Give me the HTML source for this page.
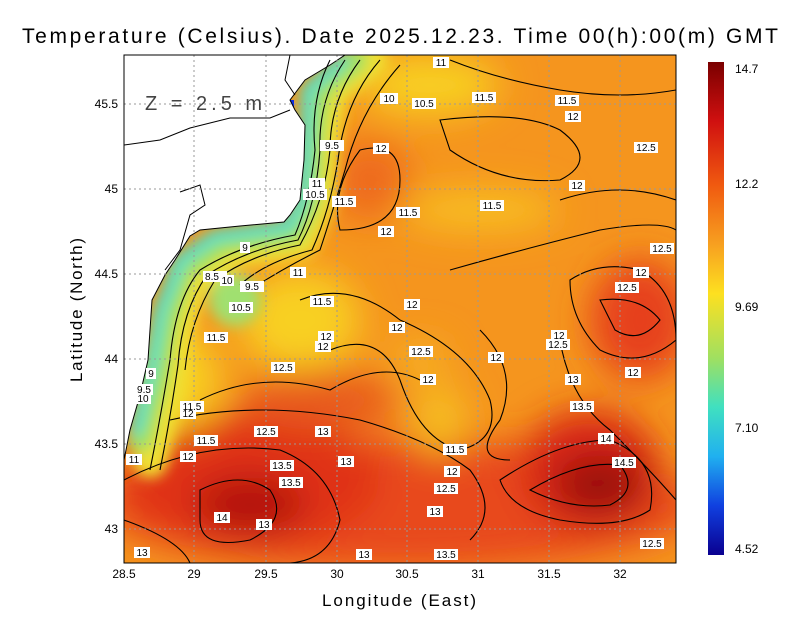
<!DOCTYPE html>
<html><head><style>
body{margin:0;background:#fff;width:800px;height:618px;overflow:hidden;font-family:"Liberation Sans",sans-serif}
</style></head><body>
<svg width="800" height="618" viewBox="0 0 800 618" xmlns="http://www.w3.org/2000/svg" font-family="Liberation Sans, sans-serif">
<defs>
<clipPath id="pc"><rect x="124" y="55" width="552" height="508"/></clipPath>
<filter id="b1" x="-50%" y="-50%" width="200%" height="200%"><feGaussianBlur stdDeviation="18"/></filter>
<filter id="b2" x="-50%" y="-50%" width="200%" height="200%"><feGaussianBlur stdDeviation="7"/></filter>
<linearGradient id="cb" x1="0" y1="0" x2="0" y2="1">
<stop offset="0" stop-color="#7a0000"/>
<stop offset="0.12" stop-color="#d01010"/>
<stop offset="0.25" stop-color="#f05a10"/>
<stop offset="0.37" stop-color="#f7a020"/>
<stop offset="0.47" stop-color="#fde020"/>
<stop offset="0.6" stop-color="#a0e060"/>
<stop offset="0.7" stop-color="#40e0c0"/>
<stop offset="0.8" stop-color="#20b0f0"/>
<stop offset="0.9" stop-color="#1040e0"/>
<stop offset="1" stop-color="#0a0090"/>
</linearGradient>
</defs>
<text x="400" y="43" font-size="21" text-anchor="middle" fill="#000" textLength="756" lengthAdjust="spacing">Temperature (Celsius). Date 2025.12.23. Time 00(h):00(m) GMT</text>
<g clip-path="url(#pc)">
<rect x="124" y="55" width="552" height="508" fill="#f5951e"/>
<g filter="url(#b1)">
<ellipse cx="400" cy="505" rx="300" ry="65" fill="#e8481a"/>
<ellipse cx="250" cy="480" rx="130" ry="65" fill="#e03018"/>
<ellipse cx="250" cy="505" rx="55" ry="28" fill="#b01010"/>
<ellipse cx="590" cy="470" rx="70" ry="60" fill="#d82818"/>
<ellipse cx="600" cy="485" rx="45" ry="30" fill="#9a0a0a"/>
<ellipse cx="640" cy="320" rx="50" ry="60" fill="#e6401a"/>
<ellipse cx="370" cy="180" rx="40" ry="40" fill="#ee6a1c"/>
<ellipse cx="320" cy="400" rx="80" ry="30" fill="#e85a1a"/>
<ellipse cx="480" cy="210" rx="80" ry="20" fill="#f8c020"/>
<ellipse cx="440" cy="420" rx="25" ry="35" fill="#f6c020"/>
<ellipse cx="420" cy="360" rx="30" ry="20" fill="#f6b020"/>
<ellipse cx="300" cy="320" rx="60" ry="50" fill="#f8d020"/>
<ellipse cx="430" cy="85" rx="70" ry="30" fill="#f8d020"/>
<ellipse cx="180" cy="380" rx="40" ry="50" fill="#f8d020"/>
</g>
<g filter="url(#b2)" fill="none" stroke-linecap="round" stroke-linejoin="round">
<path d="M370 60 L330 90 L322 140 L318 200 L300 240 L230 250 L190 280 L175 330 L165 400 L150 460" stroke="#f0e030" stroke-width="36"/>
<path d="M355 60 L318 90 L312 140 L308 200 L292 232 L222 242 L182 270 L166 320 L156 380 L140 440" stroke="#a0e060" stroke-width="26"/>
<ellipse cx="235" cy="300" rx="26" ry="26" fill="#a0e070" stroke="none"/>
<path d="M342 60 L307 90 L306 140 L302 200 L288 226 L215 236 L180 260 L160 310 L150 370 L136 430" stroke="#40e0d0" stroke-width="12"/>
</g>
<rect x="286" y="100" width="8" height="8" fill="#1030e0"/>
<path d="M124 55 L345 55 L330 65 L305 80 L290 100 L295 110 L305 125 L304 160 L300 200 L290 215 L284 222 L240 226 L200 230 L190 236 L175 260 L165 275 L152 300 L150 330 L148 360 L140 395 L130 430 L124 460 Z" fill="#fff" stroke="#000" stroke-width="1"/>
<path d="M124 145 L160 140 L190 128 L230 118 L270 118 L290 110 M180 192 L200 185 L205 205 L190 215 L180 250 L165 270 M290 55 L285 80 L295 95" fill="none" stroke="#000" stroke-width="1"/>
<g fill="none" stroke="#000" stroke-width="1.1">
<path d="M330 60 Q310 100 315 150 Q310 200 295 235 Q240 245 200 270 Q175 300 170 360 Q160 420 150 470"/>
<path d="M345 60 Q318 100 320 150 Q316 205 298 240 Q245 250 207 275 Q182 310 178 365 Q170 420 160 470"/>
<path d="M360 60 Q330 100 330 150 Q325 200 300 245 Q250 255 215 280 Q190 320 185 370"/>
<path d="M380 60 Q345 100 338 160 Q330 210 312 250 Q265 262 240 285"/>
<path d="M400 65 Q360 110 345 170 Q330 220 320 250 Q280 270 250 290"/>
<path d="M360 150 Q400 140 400 180 Q400 230 340 230 Q330 190 360 150"/>
<path d="M440 120 Q520 110 560 130 Q600 160 560 180 Q500 185 450 150 Z"/>
<path d="M450 270 Q520 250 600 230 Q660 220 676 230"/>
<path d="M570 280 Q600 260 640 270 Q676 290 676 340 Q640 370 600 350 Q570 320 570 280 Z"/>
<path d="M600 300 Q640 295 660 320 Q640 345 615 330 Z"/>
<path d="M300 300 Q350 280 400 320 Q470 350 490 400 Q500 440 460 450 Q420 440 400 380 Q380 330 330 350"/>
<path d="M124 480 Q200 440 280 450 Q330 470 340 520 Q330 560 290 563"/>
<path d="M200 490 Q240 470 270 490 Q290 520 250 540 Q200 550 200 520 Z"/>
<path d="M170 420 Q260 400 360 420 Q430 440 470 470 Q500 510 470 540"/>
<path d="M500 480 Q560 440 610 440 Q660 460 650 510 Q620 530 560 520 Q510 510 500 480 Z"/>
<path d="M530 490 Q580 460 620 465 Q640 490 610 505 Q570 510 530 490 Z"/>
<path d="M560 340 Q570 400 610 430 Q650 470 676 500"/>
<path d="M200 400 Q260 370 330 390 Q380 360 420 380"/>
<path d="M480 330 Q520 370 500 420 Q470 460 510 460"/>
<path d="M124 520 Q180 540 190 563"/>
<path d="M560 200 Q620 180 676 200"/>
<path d="M450 60 Q500 80 560 90 Q620 100 676 90"/>
</g>
</g>
<g stroke="#999" stroke-width="1" stroke-dasharray="2,3" fill="none">
<path d="M194 55V563M266 55V563M337 55V563M407 55V563M478 55V563M549 55V563M620 55V563"/>
<path d="M124 104H676M124 189H676M124 274H676M124 359H676M124 444H676M124 529H676"/>
</g>
<rect x="124" y="55" width="552" height="508" fill="none" stroke="#000" stroke-width="1"/>
<text x="145" y="110" font-size="20" fill="#444" letter-spacing="4">Z = 2.5 m</text>
<g font-size="10" text-anchor="middle">
<g fill="#fff">
<rect x="433" y="57" width="16" height="11"/><rect x="380" y="93" width="18" height="11"/><rect x="412" y="98" width="24" height="11"/><rect x="472" y="92" width="24" height="11"/><rect x="555" y="95" width="24" height="11"/><rect x="565" y="111" width="16" height="11"/><rect x="320" y="140" width="24" height="11"/><rect x="373" y="143" width="16" height="11"/><rect x="634" y="142" width="24" height="11"/><rect x="569" y="180" width="16" height="11"/><rect x="309" y="178" width="16" height="11"/><rect x="303" y="189" width="24" height="11"/><rect x="332" y="196" width="24" height="11"/><rect x="396" y="207" width="24" height="11"/><rect x="480" y="200" width="24" height="11"/><rect x="378" y="226" width="16" height="11"/><rect x="650" y="243" width="24" height="11"/><rect x="240" y="242" width="10" height="11"/><rect x="290" y="267" width="16" height="11"/><rect x="633" y="267" width="16" height="11"/><rect x="615" y="282" width="24" height="11"/><rect x="203" y="271" width="24" height="11"/><rect x="220" y="275" width="14" height="11"/><rect x="240" y="281" width="24" height="11"/><rect x="310" y="296" width="24" height="11"/><rect x="404" y="299" width="16" height="11"/><rect x="229" y="302" width="24" height="11"/><rect x="389" y="322" width="16" height="11"/><rect x="318" y="331" width="16" height="11"/><rect x="315" y="341" width="16" height="11"/><rect x="551" y="330" width="16" height="11"/><rect x="546" y="339" width="24" height="11"/><rect x="204" y="332" width="24" height="11"/><rect x="409" y="346" width="24" height="11"/><rect x="488" y="352" width="16" height="11"/><rect x="271" y="362" width="24" height="11"/><rect x="625" y="367" width="16" height="11"/><rect x="146" y="368" width="10" height="11"/><rect x="420" y="374" width="16" height="11"/><rect x="565" y="374" width="16" height="11"/><rect x="135" y="384" width="18" height="11"/><rect x="135" y="393" width="16" height="11"/><rect x="180" y="401" width="24" height="11"/><rect x="570" y="401" width="24" height="11"/><rect x="180" y="408" width="16" height="11"/><rect x="254" y="426" width="24" height="11"/><rect x="315" y="426" width="16" height="11"/><rect x="194" y="435" width="24" height="11"/><rect x="598" y="433" width="16" height="11"/><rect x="443" y="444" width="24" height="11"/><rect x="180" y="451" width="16" height="11"/><rect x="338" y="456" width="16" height="11"/><rect x="612" y="457" width="24" height="11"/><rect x="126" y="454" width="16" height="11"/><rect x="270" y="460" width="24" height="11"/><rect x="444" y="466" width="16" height="11"/><rect x="279" y="477" width="24" height="11"/><rect x="434" y="483" width="24" height="11"/><rect x="427" y="506" width="16" height="11"/><rect x="214" y="512" width="16" height="11"/><rect x="256" y="519" width="16" height="11"/><rect x="640" y="538" width="24" height="11"/><rect x="134" y="547" width="16" height="11"/><rect x="356" y="549" width="16" height="11"/><rect x="434" y="549" width="24" height="11"/>
</g>
<text x="441" y="66">11</text><text x="389" y="102">10</text><text x="424" y="107">10.5</text><text x="484" y="101">11.5</text><text x="567" y="104">11.5</text><text x="573" y="120">12</text><text x="332" y="149">9.5</text><text x="381" y="152">12</text><text x="646" y="151">12.5</text><text x="577" y="189">12</text><text x="317" y="187">11</text><text x="315" y="198">10.5</text><text x="344" y="205">11.5</text><text x="408" y="216">11.5</text><text x="492" y="209">11.5</text><text x="386" y="235">12</text><text x="662" y="252">12.5</text><text x="245" y="251">9</text><text x="298" y="276">11</text><text x="641" y="276">12</text><text x="627" y="291">12.5</text><text x="212" y="280">8.5</text><text x="227" y="284">10</text><text x="252" y="290">9.5</text><text x="322" y="305">11.5</text><text x="412" y="308">12</text><text x="241" y="311">10.5</text><text x="397" y="331">12</text><text x="326" y="340">12</text><text x="323" y="350">12</text><text x="559" y="339">12</text><text x="558" y="348">12.5</text><text x="216" y="341">11.5</text><text x="421" y="355">12.5</text><text x="496" y="361">12</text><text x="283" y="371">12.5</text><text x="633" y="376">12</text><text x="151" y="377">9</text><text x="428" y="383">12</text><text x="573" y="383">13</text><text x="144" y="393">9.5</text><text x="143" y="402">10</text><text x="192" y="410">11.5</text><text x="582" y="410">13.5</text><text x="188" y="417">12</text><text x="266" y="435">12.5</text><text x="323" y="435">13</text><text x="206" y="444">11.5</text><text x="606" y="442">14</text><text x="455" y="453">11.5</text><text x="188" y="460">12</text><text x="346" y="465">13</text><text x="624" y="466">14.5</text><text x="134" y="463">11</text><text x="282" y="469">13.5</text><text x="452" y="475">12</text><text x="291" y="486">13.5</text><text x="446" y="492">12.5</text><text x="435" y="515">13</text><text x="222" y="521">14</text><text x="264" y="528">13</text><text x="652" y="547">12.5</text><text x="142" y="556">13</text><text x="364" y="558">13</text><text x="446" y="558">13.5</text>
</g>
<g font-size="12" text-anchor="middle">
<text x="124" y="578">28.5</text><text x="194" y="578">29</text><text x="266" y="578">29.5</text><text x="337" y="578">30</text><text x="407" y="578">30.5</text><text x="478" y="578">31</text><text x="549" y="578">31.5</text><text x="620" y="578">32</text>
</g>
<g font-size="12" text-anchor="end">
<text x="118" y="108">45.5</text><text x="118" y="193">45</text><text x="118" y="278">44.5</text><text x="118" y="363">44</text><text x="118" y="448">43.5</text><text x="118" y="533">43</text>
</g>
<text x="399" y="606" font-size="17" text-anchor="middle" textLength="154" lengthAdjust="spacing">Longitude (East)</text>
<text transform="translate(82 310) rotate(-90)" font-size="17" text-anchor="middle" textLength="144" lengthAdjust="spacing">Latitude (North)</text>
<rect x="708" y="62" width="16" height="493" fill="url(#cb)"/>
<g font-size="12"><text x="735" y="73">14.7</text><text x="735" y="188">12.2</text><text x="735" y="311">9.69</text><text x="735" y="432">7.10</text><text x="735" y="553">4.52</text></g>
</svg>
</body></html>
